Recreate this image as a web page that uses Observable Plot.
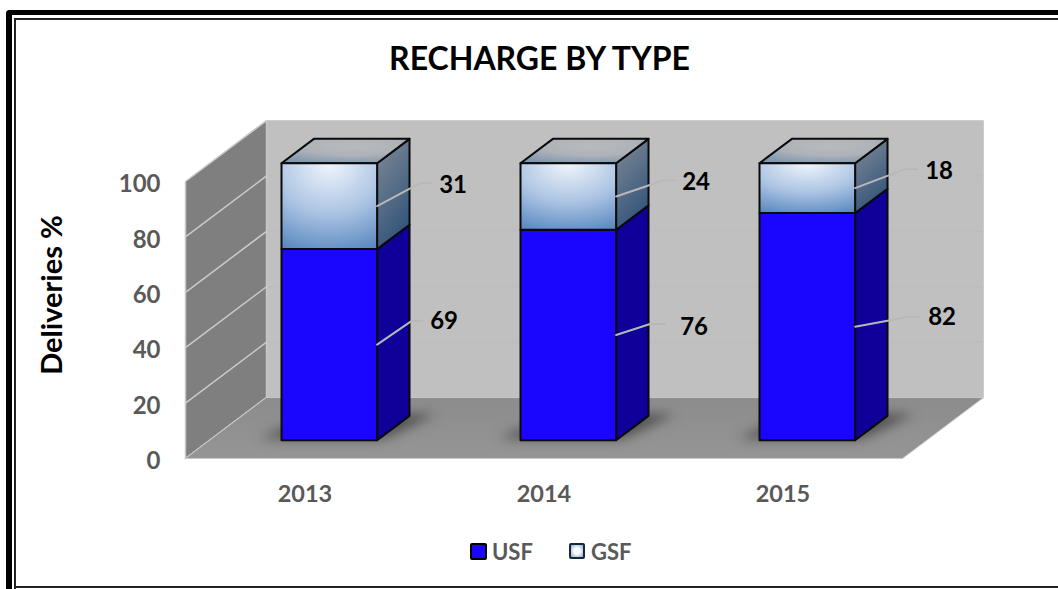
<!DOCTYPE html>
<html>
<head>
<meta charset="utf-8">
<script src="https://cdn.jsdelivr.net/npm/d3@7"></script>
<script src="https://cdn.jsdelivr.net/npm/@observablehq/plot@0.6"></script>
<style>
  html, body { margin: 0; padding: 0; background: #fff; overflow: hidden; }
  #page { position: relative; width: 1058px; height: 589px; font-family: Lato, sans-serif; }
  #chart svg { display: block; }
  .rule { position: absolute; background: #000; }
  #legend { position: absolute; left: 470px; top: 537px; display: flex; align-items: center; height: 28px;
            font: 700 22px Lato, sans-serif; color: #595959; }
  #legend i { display: inline-block; box-sizing: border-box; border-radius: 2px; }
</style>
</head>
<body>
<div id="page">
  <div class="rule" style="left:6px;top:10px;width:1052px;height:5px;border-top-left-radius:4px"></div>
  <div class="rule" style="left:6px;top:10px;width:6px;height:579px;border-top-left-radius:4px"></div>
  <div class="rule" style="left:14px;top:18px;width:1044px;height:2px;background:#222"></div>
  <div class="rule" style="left:14px;top:18px;width:2px;height:571px;background:#222"></div>
  <div class="rule" style="left:14px;top:586px;width:1044px;height:2px;background:#222"></div>
  <div id="chart"></div>
  <div id="legend"></div>
</div>
<script>
// ---- data ----
const years = ["2013", "2014", "2015"];
const usf = [69, 76, 82];
const gsf = [31, 24, 18];
const yTicks = [0, 20, 40, 60, 80, 100];
const title = "RECHARGE BY TYPE";
const yLabel = "Deliveries %";
const seriesNames = ["USF", "GSF"];

// ---- oblique projection of the 3-D box (units of the x and y scales) ----
const zX = 0.339, zY = 22;             // shift of one full depth unit
const barX = [0.3, 0.7], barZ = [0.3, 0.7];
const P = (x, v, z) => ({x: x + z * zX, y: v + z * zY});
const poly = (id, pts) => pts.map(([x, v, z]) => ({id, ...P(x, v, z)}));
const yMax = 100, xMax = years.length;

const frontFace = (i, lo, hi) => poly(`f${i}`, [[i + barX[0], lo, barZ[0]], [i + barX[1], lo, barZ[0]], [i + barX[1], hi, barZ[0]], [i + barX[0], hi, barZ[0]]]);
const sideFace = (i, lo, hi) => poly(`s${i}`, [[i + barX[1], lo, barZ[0]], [i + barX[1], lo, barZ[1]], [i + barX[1], hi, barZ[1]], [i + barX[1], hi, barZ[0]]]);
const topFace = (i, hi) => poly(`t${i}`, [[i + barX[0], hi, barZ[0]], [i + barX[1], hi, barZ[0]], [i + barX[1], hi, barZ[1]], [i + barX[0], hi, barZ[1]]]);

const usfFront = years.flatMap((_, i) => frontFace(i, 0, usf[i]));
const usfSide = years.flatMap((_, i) => sideFace(i, 0, usf[i]));
const gsfFront = years.flatMap((_, i) => frontFace(i, usf[i], usf[i] + gsf[i]));
const gsfSide = years.flatMap((_, i) => sideFace(i, usf[i], usf[i] + gsf[i]));
const gsfTop = years.flatMap((_, i) => topFace(i, usf[i] + gsf[i]));

const shadows = years.flatMap((_, i) => poly(`h${i}`, [
  [i + barX[0] - 0.1, 0, barZ[0] + 0.03], [i + barX[1] + 0.02, 0, barZ[0] + 0.03],
  [i + barX[1] + 0.1, 0, barZ[1] + 0.03], [i + barX[0], 0, barZ[1] + 0.03]]));

const sideWall = poly("sw", [[0, 0, 0], [0, 0, 1], [0, yMax, 1], [0, yMax, 0]]);
const backWall = poly("bw", [[0, 0, 1], [xMax, 0, 1], [xMax, yMax, 1], [0, yMax, 1]]);
const floor = poly("fl", [[0, 0, 0], [xMax, 0, 0], [xMax, 0, 1], [0, 0, 1]]);
const sideGrid = yTicks.slice(0, -1).flatMap(t => poly(`g${t}`, [[0, t, 0], [0, t, 1]]));
const backGrid = yTicks.slice(1, -1).flatMap(t => poly(`b${t}`, [[0, t, 1], [xMax, t, 1]]));

// ---- data-label leaders: pixel offsets from the bar edge (elbow x/y, end x, label x/y) ----
const pxX = 239, pxY = 2.77;
const leaderLayout = [
  [[35, -24, 45, 67, 1], [43, -23, 54, 76, 2]],
  [[34, -11, 49, 78, 3], [47, -16, 59, 80, 2]],
  [[54, -10, 65, 87, 1], [50, -19, 62, 84, 2]]
];
const leaders = [], labels = [];
years.forEach((_, i) => {
  [[usf[i], 0], [gsf[i], usf[i]]].forEach(([value, base], s) => {
    const [ex, ey, endx, lx, ly] = leaderLayout[i][s];
    const x0 = i + barX[1] + barZ[0] * zX, y0 = base + value / 2 + barZ[0] * zY;
    leaders.push({id: `${i}-${s}`, x: x0, y: y0},
                 {id: `${i}-${s}`, x: x0 + ex / pxX, y: y0 - ey / pxY},
                 {id: `${i}-${s}`, x: x0 + endx / pxX, y: y0 - ey / pxY});
    labels.push({value, x: x0 + lx / pxX, y: y0 - (ey + ly) / pxY});
  });
});

const defs = () => {
  const g = document.createElementNS("http://www.w3.org/2000/svg", "defs");
  g.innerHTML = `
    <radialGradient id="gsfFront" cx="0.5" cy="0" r="1.15">
      <stop offset="0" stop-color="#f0f5fc"/><stop offset="0.5" stop-color="#adc5e3"/><stop offset="1" stop-color="#4f80bd"/>
    </radialGradient>
    <linearGradient id="gsfSide" x1="0.3" y1="0" x2="0.7" y2="1">
      <stop offset="0" stop-color="#7a8594"/><stop offset="1" stop-color="#2d5078"/>
    </linearGradient>
    <radialGradient id="gsfTop" cx="0.55" cy="0.3" r="0.75">
      <stop offset="0" stop-color="#b8babc"/><stop offset="0.5" stop-color="#aeb3b9"/><stop offset="1" stop-color="#8097ae"/>
    </radialGradient>
    <linearGradient id="floorFill" x1="0" y1="0" x2="0" y2="1">
      <stop offset="0" stop-color="#8c8c8c"/><stop offset="1" stop-color="#959595"/>
    </linearGradient>`;
  return g;
};

const face = (rows, fill, extra = {}) => Plot.line(rows, {x: "x", y: "y", z: "id", curve: "linear-closed", fill, stroke: "#0a0a0a", strokeWidth: 2, strokeLinejoin: "round", ...extra});
const segs = (rows, stroke, strokeWidth) => Plot.line(rows, {x: "x", y: "y", z: "id", stroke, strokeWidth});

const plot = Plot.plot({
  width: 1058, height: 589,
  marginLeft: 185, marginRight: 156, marginTop: 181, marginBottom: 131,
  style: {background: "transparent", fontFamily: "Lato, sans-serif"},
  x: {domain: [0, xMax], axis: null},
  y: {domain: [0, yMax], axis: null},
  marks: [
    defs,
    face(backWall, "#c0c0c0", {stroke: "#cdcdcd", strokeWidth: 1}),
    segs(backGrid, "#bdbdbd", 1),
    face(sideWall, "#7f7f7f", {stroke: "#c8c8c8", strokeWidth: 1.5}),
    segs(sideGrid, "#cbcbcb", 1.5),
    face(floor, "url(#floorFill)", {stroke: "#c8c8c8", strokeWidth: 1}),
    Plot.line(shadows, {x: "x", y: "y", z: "id", curve: "linear-closed", fill: "#3a3a3a", fillOpacity: 0.75, stroke: "none", imageFilter: "blur(6px)"}),
    face(usfSide, "#0e0098"),
    face(usfFront, "#1a06ff"),
    face(gsfSide, "url(#gsfSide)"),
    face(gsfTop, "url(#gsfTop)"),
    face(gsfFront, "url(#gsfFront)"),
    segs(leaders, "#b8b8b8", 2),
    Plot.text(labels, {x: "x", y: "y", text: d => String(d.value), fill: "#000", fontSize: 24, fontWeight: 700}),
    Plot.axisY(yTicks, {anchor: "left", tickSize: 0, tickPadding: 25, dy: 3, fontSize: 24, fontWeight: 700, color: "#595959", label: null}),
    Plot.axisX(years.map((_, i) => i + 0.5), {anchor: "bottom", tickSize: 0, tickPadding: 27, tickFormat: d => years[Math.floor(d)], fontSize: 23.5, fontWeight: 700, color: "#595959", label: null}),
    Plot.text([title], {frameAnchor: "top", dx: -4.5, dy: -122, text: d => d, fontSize: 32, fontWeight: 700, fill: "#000", lineAnchor: "middle"}),
    Plot.text([yLabel], {frameAnchor: "left", dx: -133, dy: -25, rotate: -90, text: d => d, fontSize: 29, fontWeight: 700, fill: "#000", textAnchor: "middle"})
  ]
});
document.getElementById("chart").append(plot);

const swatches = [
  {w: 17, h: 17, border: "2px solid #000", bg: "#1a06ff", mr: 5, textW: 77},
  {w: 16, h: 16, border: "2px solid #1b2733", bg: "radial-gradient(circle, #ffffff 35%, #7ea6d6 100%)", mr: 6, textW: 0}
];
const legend = document.getElementById("legend");
seriesNames.forEach((name, k) => {
  const s = swatches[k];
  const sw = document.createElement("i");
  sw.style.cssText = `width:${s.w}px;height:${s.h}px;border:${s.border};background:${s.bg};margin-right:${s.mr}px`;
  const t = document.createElement("span");
  t.textContent = name;
  if (s.textW) t.style.cssText = `width:${s.textW}px`;
  legend.append(sw, t);
});
</script>
</body>
</html>
